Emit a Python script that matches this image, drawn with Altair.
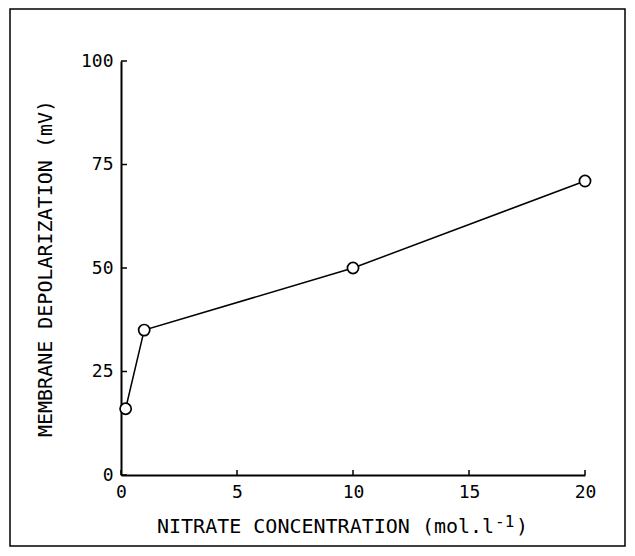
import altair as alt
import pandas as pd

# Data
conc = [0.2, 1, 10, 20]
depol = [16, 35, 50, 71]
x_ticks = [0, 5, 10, 15, 20]
y_ticks = [0, 25, 50, 75, 100]

df = pd.DataFrame({"conc": conc, "depol": depol})
xt = pd.DataFrame({"v": x_ticks})
yt = pd.DataFrame({"v": y_ticks})
one = pd.DataFrame({"a": [0]})

W, H = 464, 414
FONT = "DejaVu Sans Mono"

xscale = alt.Scale(domain=[0, 20], nice=False, zero=False)
yscale = alt.Scale(domain=[0, 100], nice=False)

xaxis = alt.Axis(values=x_ticks, ticks=False, grid=False, domainColor="black",
                 domainWidth=2, labelFont=FONT, labelFontSize=18, labelPadding=8,
                 labelColor="black", labelFlush=False, title=None)
yaxis = alt.Axis(values=y_ticks, ticks=False, grid=False, domainColor="black",
                 domainWidth=2, labelFont=FONT, labelFontSize=18, labelPadding=8,
                 labelColor="black", labelFlush=False,
                 title="MEMBRANE DEPOLARIZATION (mV)", titleFont=FONT,
                 titleFontSize=20, titleFontWeight="normal", titleColor="black",
                 titlePadding=25)

X = lambda f: alt.X(f, scale=xscale, axis=xaxis)
Y = lambda f: alt.Y(f, scale=yscale, axis=yaxis)

line = alt.Chart(df).mark_line(color="black", strokeWidth=1.5).encode(
    x=X("conc:Q"), y=Y("depol:Q"))
pts = alt.Chart(df).mark_circle(fill="white", stroke="black", strokeWidth=1.7,
                                size=125, opacity=1).encode(
    x=X("conc:Q"), y=Y("depol:Q"))
xtick = alt.Chart(xt).mark_rule(color="black", strokeWidth=1.5).encode(
    x=X("v:Q"), y=alt.value(H), y2=alt.value(H - 5))
ytick = alt.Chart(yt).mark_rule(color="black", strokeWidth=1.5).encode(
    y=Y("v:Q"), x=alt.value(0), x2=alt.value(6))
frame = alt.Chart(one).mark_rect(fillOpacity=0, stroke="black", strokeWidth=1.5).encode(
    x=alt.value(-111), x2=alt.value(504), y=alt.value(-52), y2=alt.value(485))

# x-axis title with a true superscript
t_main = alt.Chart(one).mark_text(text="NITRATE CONCENTRATION (mol.l", font=FONT,
                                  fontSize=20, align="left", baseline="alphabetic",
                                  color="black").encode(
    x=alt.value(36), y=alt.value(472))
t_sup = alt.Chart(one).mark_text(text="-1", font=FONT, fontSize=16, align="left",
                                 baseline="alphabetic", color="black").encode(
    x=alt.value(374), y=alt.value(466))
t_end = alt.Chart(one).mark_text(text=")", font=FONT, fontSize=20, align="left",
                                 baseline="alphabetic", color="black").encode(
    x=alt.value(395), y=alt.value(472))

chart = alt.layer(frame, xtick, ytick, line, pts, t_main, t_sup, t_end).properties(
    width=W, height=H,
    autosize=alt.AutoSizeParams(type="none"),
    padding={"left": 113, "top": 53, "right": 42, "bottom": 72},
    background="white",
).configure_view(stroke=None)

chart.save("out.html", embed_options={"renderer": "svg", "actions": False})
